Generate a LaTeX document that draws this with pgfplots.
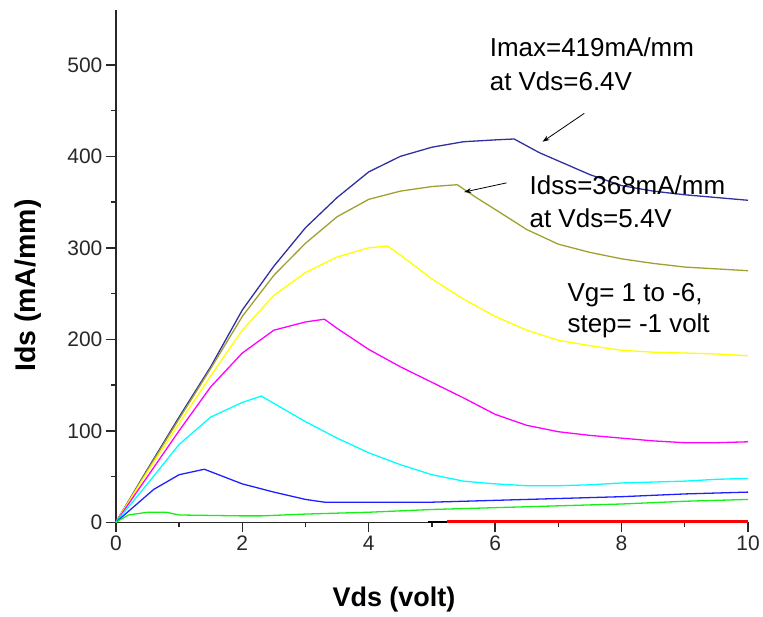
\documentclass[border=0pt]{standalone}
\usepackage{fontspec}
\setmainfont{Liberation Sans}
\usepackage{pgfplots}
\pgfplotsset{compat=1.18}
\usetikzlibrary{arrows.meta}
\definecolor{cNavy}{RGB}{48,48,160}
\definecolor{cOlive}{RGB}{160,160,48}
\definecolor{cYel}{RGB}{255,255,0}
\definecolor{cMag}{RGB}{255,0,255}
\definecolor{cCyan}{RGB}{0,255,255}
\definecolor{cBlue}{RGB}{32,32,255}
\definecolor{cGreen}{RGB}{20,240,20}
\definecolor{cRed}{RGB}{255,0,0}
\definecolor{axgray}{RGB}{40,40,40}

\begin{document}
\begin{tikzpicture}
\begin{axis}[
  scale only axis, width=633pt, height=513pt,
  xmin=0, xmax=10, ymin=0, ymax=560,
  axis x line*=bottom, axis y line*=left,
  axis line style={line width=1.4pt, axgray},
  tick align=outside,
  major tick length=10pt, minor tick length=5pt,
  every tick/.style={line width=1.4pt, axgray},
  xtick={0,2,4,6,8,10}, ytick={0,100,200,300,400,500},
  minor x tick num=1, minor y tick num=1,
  /pgf/number format/assume math mode=true,
  ticklabel style={font=\fontsize{21}{21}\selectfont, text=axgray},
  xlabel={Vds (volt)}, ylabel={Ids (mA/mm)},
  every axis x label/.style={at={(rel axis cs:0.44,-0.15)}, anchor=center,
    font=\bfseries\fontsize{27}{27}\selectfont},
  every axis y label/.style={at={(rel axis cs:-0.139,0.462)}, anchor=center, rotate=90,
    font=\bfseries\fontsize{28.5}{28.5}\selectfont},
  clip=false,
  every axis plot/.append style={line width=1.3pt},
]
% Vg = 1
\addplot[cNavy] coordinates {(0,0)(0.5,58)(1,115)(1.5,170)(2,232)(2.5,280)(3,322)(3.5,355)(4,383)(4.5,400)(5,410)(5.5,416)(6,418)(6.3,419)(6.7,404)(7,395)(7.5,380)(8,368)(8.5,362)(9,358)(9.5,355)(10,352)};
% Vg = 0
\addplot[cOlive] coordinates {(0,0)(0.5,57)(1,113)(1.5,168)(2,225)(2.5,270)(3,305)(3.5,334)(4,353)(4.5,362)(5,367)(5.4,369)(5.7,355)(6,342)(6.5,320)(7,304)(7.5,295)(8,288)(8.5,283)(9,279)(9.5,277)(10,275)};
% Vg = -1
\addplot[cYel] coordinates {(0,0)(0.5,55)(1,108)(1.5,160)(2,210)(2.5,248)(3,273)(3.5,290)(4,300)(4.3,302)(4.6,287)(5,266)(5.5,244)(6,225)(6.5,210)(7,199)(7.5,193)(8,188)(8.5,186)(9,185)(9.5,184)(10,182)};
% Vg = -2
\addplot[cMag] coordinates {(0,0)(0.5,50)(1,100)(1.5,148)(2,185)(2.5,210)(3,219)(3.3,222)(3.5,212)(4,189)(4.5,170)(5,153)(5.5,136)(6,118)(6.5,106)(7,99)(7.5,95)(8,92)(8.5,89)(9,87)(9.5,87)(10,88)};
% Vg = -3
\addplot[cCyan] coordinates {(0,0)(0.5,42)(1,85)(1.5,115)(2,131)(2.3,138)(2.5,130)(3,110)(3.5,92)(4,76)(4.5,63)(5,52)(5.5,45)(6,42)(6.5,40)(7,40)(7.5,41)(8,43)(8.5,44)(9,45)(9.5,47)(10,48)};
% Vg = -4
\addplot[cBlue] coordinates {(0,0)(0.3,18)(0.6,36)(1,52)(1.4,58)(2,42)(2.5,33)(3,25)(3.3,22)(4,22)(5,22)(6,24)(7,26)(8,28)(9,31)(10,33)};
% Vg = -5
\addplot[cGreen] coordinates {(0,0)(0.2,8)(0.5,11)(0.8,11)(1,8)(2,7)(2.3,7)(3,9)(4,11)(5,14)(6,16)(7,18)(8,20)(9,23)(10,25)};
% Vg = -6
\addplot[black, line width=2pt] coordinates {(4.93,0.8)(5.24,0.8)};
\addplot[cRed, line width=2.2pt] coordinates {(5.24,0.8)(10,0.8)};

\begin{scope}[font=\fontsize{26}{26}\selectfont]
\node[anchor=base west] at (axis cs:5.86,509) {Imax=419mA/mm};
\node[anchor=base west] at (axis cs:5.86,471.6) {at Vds=6.4V};
\node[anchor=base west] at (axis cs:6.49,358) {Idss=368mA/mm};
\node[anchor=base west] at (axis cs:6.49,322) {at Vds=5.4V};
\node[anchor=base west] at (axis cs:7.09,241.6) {Vg= 1 to -6,};
\node[anchor=base west] at (axis cs:7.09,207) {step= -1 volt};
\end{scope}
\draw[-{Stealth[length=7pt,width=5pt]}, line width=0.8pt] (axis cs:7.41,447) -- (axis cs:6.75,416);
\draw[-{Stealth[length=7pt,width=5pt]}, line width=0.8pt] (axis cs:6.18,371) -- (axis cs:5.51,361);
\end{axis}
\path[use as bounding box] (-116pt,-94pt) rectangle (647pt,523pt);
\end{tikzpicture}
\end{document}
